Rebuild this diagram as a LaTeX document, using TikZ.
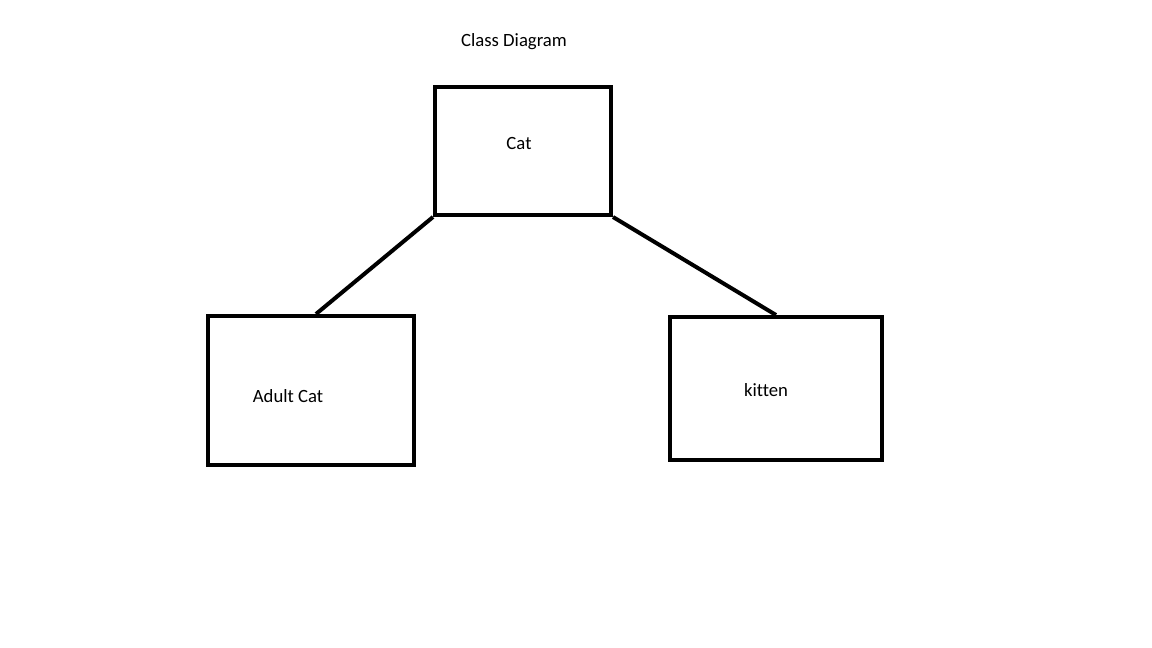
\documentclass[tikz,border=0pt]{standalone}
\usepackage{fontspec}
\setmainfont[Ligatures=NoCommon]{Carlito}
\begin{document}
\begin{tikzpicture}[x=1pt,y=-1pt,
  box/.style={draw=black,line width=4pt,fill=none,inner sep=0pt},
  lbl/.style={inner sep=0pt,font=\fontsize{18.7pt}{22pt}\selectfont},
  link/.style={draw=black,line width=4pt}]
\useasboundingbox[fill=white] (0,0) rectangle (1152,648);
\node[box,minimum width=176pt,minimum height=128pt] (cat) at (523,151) {};
\node[box,minimum width=206pt,minimum height=149pt] (adult) at (311,390.5) {};
\node[box,minimum width=212pt,minimum height=143pt] (kitten) at (776,388.5) {};
\node[lbl] (title) at (514,41.5) {Class Diagram};
\node[lbl] (catt) at (519,143.5) {Cat};
\node[lbl] (adultt) at (288,396.5) {Adult Cat};
\node[lbl] (kittent) at (766,390.5) {kitten};
\draw[link] (cat.south west) -- ([xshift=5pt]adult.north);
\draw[link] (cat.south east) -- (kitten.north);
\end{tikzpicture}
\end{document}
